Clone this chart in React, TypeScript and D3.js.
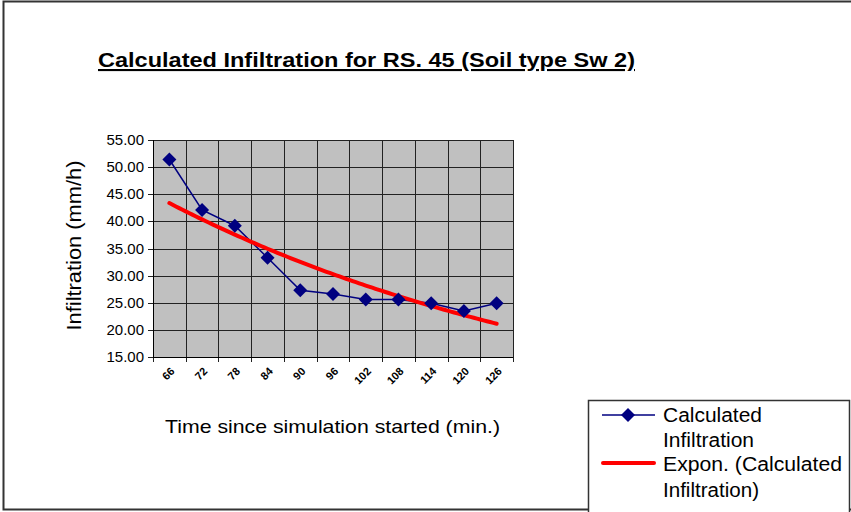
import React from "react";
import * as d3 from "d3";

const categories = ["66", "72", "78", "84", "90", "96", "102", "108", "114", "120", "126"];
const infiltration = [51.4, 42.1, 39.2, 33.3, 27.3, 26.6, 25.6, 25.6, 24.9, 23.5, 24.9];
const yTicks = [15, 20, 25, 30, 35, 40, 45, 50, 55];

const W = 851;
const H = 512;
const plot = { left: 153, right: 513, top: 140, bottom: 357 };

export default function App() {
  const x = d3
    .scaleBand<string>()
    .domain(categories)
    .range([plot.left, plot.right])
    .paddingInner(0)
    .paddingOuter(0);
  const y = d3.scaleLinear().domain([15, 55]).range([plot.bottom, plot.top]);
  const cx = (i: number) => (x(categories[i]) as number) + x.bandwidth() / 2;

  // exponential trendline fitted (least squares on ln y) to the data
  const n = infiltration.length;
  const xs = infiltration.map((_, i) => i + 1);
  const ls = infiltration.map((v) => Math.log(v));
  const mx = d3.mean(xs) as number;
  const ml = d3.mean(ls) as number;
  let sxy = 0,
    sxx = 0;
  for (let i = 0; i < n; i++) {
    sxy += (xs[i] - mx) * (ls[i] - ml);
    sxx += (xs[i] - mx) * (xs[i] - mx);
  }
  const b = sxy / sxx;
  const a = Math.exp(ml - b * mx);
  const trendPts: [number, number][] = [];
  const steps = 100;
  for (let k = 0; k <= steps; k++) {
    const t = 1 + ((n - 1) * k) / steps;
    const px = cx(0) + ((cx(n - 1) - cx(0)) * (t - 1)) / (n - 1);
    trendPts.push([px, y(a * Math.exp(b * t))]);
  }
  const line = d3.line<[number, number]>();
  const dataPts: [number, number][] = infiltration.map((v, i) => [cx(i), y(v)]);

  const diamond = (px: number, py: number, r: number) =>
    `M${px},${py - r}L${px + r},${py}L${px},${py + r}L${px - r},${py}Z`;

  const boundaries = categories.map((c) => x(c) as number).concat([plot.right]);

  return (
    <svg
      width={W}
      height={H}
      style={{ position: "absolute", left: 0, top: 0, background: "#fff" }}
      fontFamily="'Liberation Sans', Arial, sans-serif"
    >
      <rect x={0} y={0} width={W} height={H} fill="#fff" />
      {/* outer chart border */}
      <path d={`M${W + 5},1.5H3.5V509.5H${W + 5}`} fill="none" stroke="#333" strokeWidth={2} />

      {/* title */}
      <text
        x={98}
        y={67}
        fontSize={21}
        fontWeight="bold"
        fill="#000"
        textDecoration="underline"
        textLength={537}
        lengthAdjust="spacingAndGlyphs"
      >
        Calculated Infiltration for RS. 45 (Soil type Sw 2)
      </text>

      {/* plot area */}
      <rect
        x={plot.left}
        y={plot.top}
        width={plot.right - plot.left}
        height={plot.bottom - plot.top}
        fill="#C0C0C0"
      />
      {yTicks.map((t) => (
        <line
          key={"h" + t}
          x1={plot.left - 5}
          x2={plot.right}
          y1={Math.round(y(t)) + 0.5}
          y2={Math.round(y(t)) + 0.5}
          stroke="#222"
          strokeWidth={1}
        />
      ))}
      {boundaries.map((bx, i) => (
        <line
          key={"v" + i}
          x1={Math.round(bx) + 0.5}
          x2={Math.round(bx) + 0.5}
          y1={plot.top}
          y2={plot.bottom + 5}
          stroke="#222"
          strokeWidth={1}
        />
      ))}
      <line x1={plot.left + 0.5} x2={plot.left + 0.5} y1={plot.top} y2={plot.bottom} stroke="#000" />
      <line x1={plot.left} x2={plot.right} y1={plot.bottom + 0.5} y2={plot.bottom + 0.5} stroke="#000" />

      {/* y tick labels */}
      {yTicks.map((t) => (
        <text key={"yl" + t} x={144} y={y(t) + 5} fontSize={15} textAnchor="end" fill="#000">
          {t.toFixed(2)}
        </text>
      ))}

      {/* x tick labels rotated */}
      {categories.map((c, i) => (
        <text
          key={"xl" + c}
          transform={`translate(${cx(i) + 6},${plot.bottom + 15}) rotate(-45)`}
          fontSize={11}
          fontWeight="bold"
          textAnchor="end"
          fill="#000"
        >
          {c}
        </text>
      ))}

      {/* axis titles */}
      <text
        transform={`translate(81,${(plot.top + plot.bottom) / 2 - 3}) rotate(-90)`}
        fontSize={20}
        textAnchor="middle"
        fill="#000"
        textLength={170}
        lengthAdjust="spacingAndGlyphs"
      >
        Infiltration (mm/h)
      </text>
      <text
        x={332.5}
        y={433}
        fontSize={19}
        textAnchor="middle"
        fill="#000"
        textLength={335}
        lengthAdjust="spacingAndGlyphs"
      >
        Time since simulation started (min.)
      </text>

      {/* data series */}
      <path d={line(dataPts) as string} fill="none" stroke="#000080" strokeWidth={1.5} />
      {/* trendline */}
      <path d={line(trendPts) as string} fill="none" stroke="#FF0000" strokeWidth={4} strokeLinejoin="round" strokeLinecap="round" />
      {dataPts.map(([px, py], i) => (
        <path key={"m" + i} d={diamond(px, py, 7)} fill="#000080" />
      ))}

      {/* legend */}
      <path d={`M588.5,512V400.5H849.5V512`} fill="#fff" stroke="#333" strokeWidth={1.5} />
      <line x1={602} x2={655} y1={415} y2={415} stroke="#000080" strokeWidth={1.5} />
      <path d={diamond(628, 415, 7)} fill="#000080" />
      <text x={663} y={422} fontSize={20} fill="#000" textLength={99} lengthAdjust="spacingAndGlyphs">Calculated</text>
      <text x={663} y={447} fontSize={20} fill="#000" textLength={91} lengthAdjust="spacingAndGlyphs">Infiltration</text>
      <line x1={603} x2={654} y1={463} y2={463} stroke="#FF0000" strokeWidth={4} strokeLinecap="round" />
      <text x={663} y={471} fontSize={20} fill="#000" textLength={179} lengthAdjust="spacingAndGlyphs">Expon. (Calculated</text>
      <text x={663} y={497} fontSize={20} fill="#000" textLength={96} lengthAdjust="spacingAndGlyphs">Infiltration)</text>
    </svg>
  );
}
